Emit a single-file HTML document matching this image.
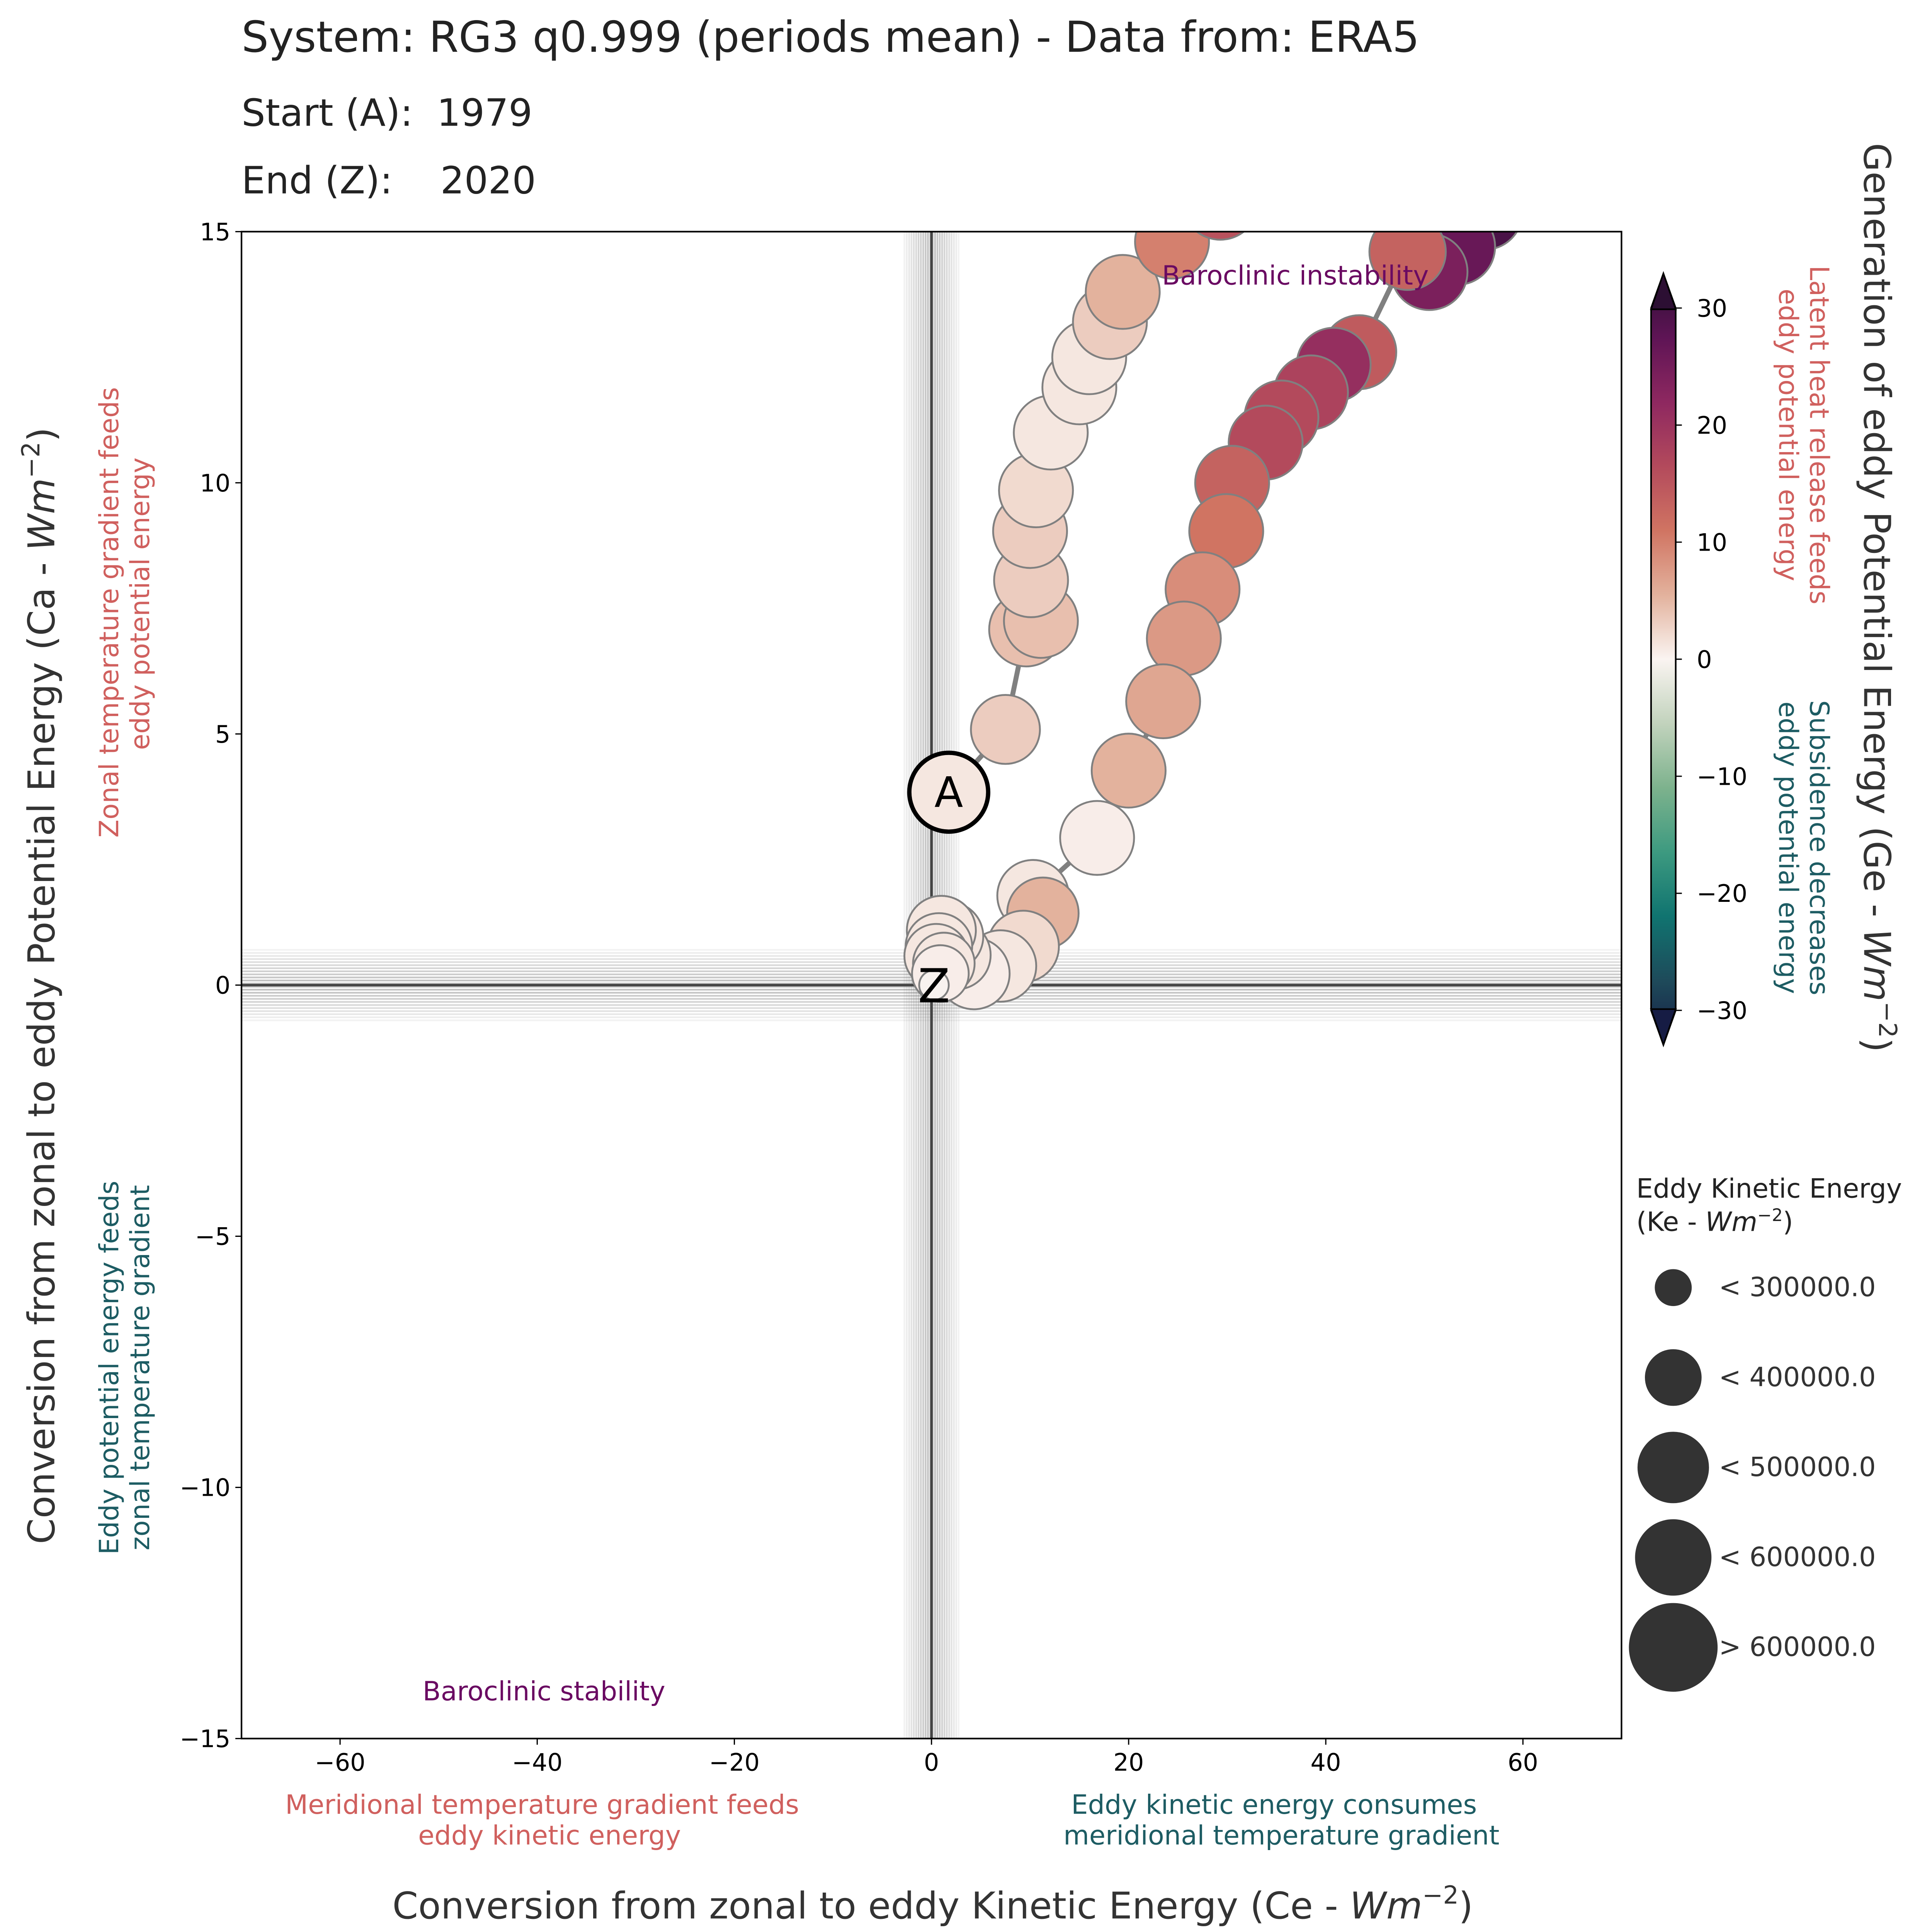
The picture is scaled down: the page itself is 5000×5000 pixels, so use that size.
<!DOCTYPE html>
<html><head><meta charset="utf-8"><style>
html,body{margin:0;padding:0;background:#fff;}
svg{display:block;font-family:"DejaVu Sans","Liberation Sans",sans-serif;}
</style></head><body>
<svg id="chart" width="5000" height="5000" viewBox="0 0 1568 1568" xmlns="http://www.w3.org/2000/svg">
<defs>
<linearGradient id="cbgrad" x1="0" y1="1" x2="0" y2="0">
<stop offset="0" stop-color="#161c44"/><stop offset="0.083" stop-color="#1e4a5a"/><stop offset="0.167" stop-color="#107470"/>
<stop offset="0.25" stop-color="#3d9a80"/><stop offset="0.333" stop-color="#7db28d"/><stop offset="0.417" stop-color="#c2d3bd"/>
<stop offset="0.5" stop-color="#faf4f1"/><stop offset="0.583" stop-color="#e3b29d"/><stop offset="0.667" stop-color="#d07462"/>
<stop offset="0.75" stop-color="#b34a5c"/><stop offset="0.833" stop-color="#8e2860"/><stop offset="0.917" stop-color="#5e1455"/>
<stop offset="1" stop-color="#2c0f33"/>
</linearGradient>
<clipPath id="plotclip"><rect x="196" y="188" width="1120" height="1223"/></clipPath>
</defs>
<g fill="#222">
<text x="196" y="42" font-size="34.7">System: RG3 q0.999 (periods mean) - Data from: ERA5</text>
<text x="196" y="102" font-size="30.5" xml:space="preserve">Start (A):  1979</text>
<text x="196" y="157" font-size="30.5" xml:space="preserve">End (Z):    2020</text>
</g>
<g id="bands" clip-path="url(#plotclip)"></g>
<g id="marks" clip-path="url(#plotclip)"></g>
<rect x="196" y="188" width="1120" height="1223" fill="none" stroke="#000" stroke-width="1.3"/>
<g id="xticks" font-size="19.5" fill="#000"></g>
<g id="yticks" font-size="19.5" fill="#000"></g>
<text x="943" y="231" font-size="21.5" fill="#6a0a62" clip-path="url(#plotclip)">Baroclinic instability</text>
<text x="343" y="1380" font-size="21.5" fill="#6a0a62">Baroclinic stability</text>
<g font-size="21.5" text-anchor="middle">
<text fill="#d0605e" x="440" y="1472">Meridional temperature gradient feeds</text>
<text fill="#d0605e" x="446" y="1497">eddy kinetic energy</text>
<text fill="#1d5c63" x="1034" y="1472">Eddy kinetic energy consumes</text>
<text fill="#1d5c63" x="1040" y="1497">meridional temperature gradient</text>
<text fill="#d0605e" transform="translate(96,497) rotate(-90)">Zonal temperature gradient feeds</text>
<text fill="#d0605e" transform="translate(121,490) rotate(-90)">eddy potential energy</text>
<text fill="#1d5c63" transform="translate(96,1110) rotate(-90)">Eddy potential energy feeds</text>
<text fill="#1d5c63" transform="translate(121,1110) rotate(-90)">zonal temperature gradient</text>
<text fill="#d0605e" transform="translate(1469,353) rotate(90)">Latent heat release feeds</text>
<text fill="#d0605e" transform="translate(1444,353) rotate(90)">eddy potential energy</text>
<text fill="#1d5c63" transform="translate(1469,688) rotate(90)">Subsidence decreases</text>
<text fill="#1d5c63" transform="translate(1444,688) rotate(90)">eddy potential energy</text>
</g>
<text x="757" y="1557" font-size="30" fill="#333" text-anchor="middle">Conversion from zonal to eddy Kinetic Energy (Ce - <tspan font-style="italic">Wm</tspan><tspan font-size="20" dy="-12">−2</tspan><tspan dy="12">)</tspan></text>
<text font-size="30" fill="#333" text-anchor="middle" transform="translate(44,800) rotate(-90)">Conversion from zonal to eddy Potential Energy (Ca - <tspan font-style="italic">Wm</tspan><tspan font-size="20" dy="-12">−2</tspan><tspan dy="12">)</tspan></text>
<text font-size="30" fill="#333" text-anchor="middle" transform="translate(1513,485) rotate(90)">Generation of eddy Potential Energy (Ge - <tspan font-style="italic">Wm</tspan><tspan font-size="20" dy="-12">−2</tspan><tspan dy="12">)</tspan></text>
<g>
<polygon points="1340,250 1350,222 1360,250 1360,820 1350,848 1340,820" fill="url(#cbgrad)" stroke="#000" stroke-width="1.3"/>
<polygon points="1340,251 1350,222 1360,251" fill="#2c0f33" stroke="#000" stroke-width="1.3"/>
<polygon points="1340,819 1350,848 1360,819" fill="#161c44" stroke="#000" stroke-width="1.3"/>
<g id="cbticks" font-size="19.5" fill="#000"></g>
</g>
<g fill="#222" font-size="21.5">
<text x="1328" y="972">Eddy Kinetic Energy</text>
<text x="1328" y="999">(Ke - <tspan font-style="italic">Wm</tspan><tspan font-size="14" dy="-8">−2</tspan><tspan dy="8">)</tspan></text>
<g id="sizeleg"></g>
</g>
</svg>
<script>
const NS='http://www.w3.org/2000/svg';
// Data
const ceValues=[1.75,7.5,9.6,11.1,10.1,10.0,10.6,12.1,15.0,16.0,18.1,19.4,24.4,29.3,38.0,56.7,56.1,53.3,50.5,48.3,43.4,40.8,38.5,35.5,33.9,30.5,29.9,27.5,25.6,23.5,20.0,16.8,10.3,11.3,9.3,7.0,4.3,2.5,1.75,1.0,0.75,0.5,1.25,0.9,0.25];
const caValues=[3.84,5.09,7.08,7.25,8.06,9.04,9.85,11.0,11.9,12.5,13.2,13.8,14.8,15.6,16.4,15.9,15.4,14.7,14.2,14.6,12.6,12.35,11.8,11.3,10.8,10.0,9.04,7.88,6.9,5.65,4.27,2.93,1.78,1.43,0.77,0.38,0.23,0.6,0.97,1.09,0.77,0.58,0.43,0.23,0.0];
const geValues=[1,3,4,4,3,3,2,1,1,1,3,5,9,14,20,27,27,24,22,12,13,19,16,15,15,12,10,8,7,6,5,0.5,1,5,2,1,0.5,1,1,1,1,1,1,0.5,0.5];
const keValues=[560000,560000,600000,600000,600000,600000,600000,600000,600000,600000,600000,600000,600000,620000,620000,620000,620000,620000,620000,620000,600000,600000,600000,600000,600000,600000,600000,600000,600000,600000,600000,600000,580000,580000,580000,580000,580000,560000,560000,560000,540000,520000,500000,460000,240000];
const xTicks=[-60,-40,-20,0,20,40,60];
const yTicks=[-15,-10,-5,0,5,10,15];
const cbTicks=[-30,-20,-10,0,10,20,30];
const legendKe=[300000,400000,500000,600000,700000];
const legendLabels=['< 300000.0','< 400000.0','< 500000.0','< 600000.0','> 600000.0'];
// Scales
const X0=196,X1=1316,Y0=188,Y1=1411;
const xs=v=>X0+(v+70)/140*(X1-X0);
const ys=v=>Y1-(v+15)/30*(Y1-Y0);
const cbY=v=>820-(v+30)/60*570;
const rs=k=>k/20000;
const stops=[[-30,[22,28,68]],[-25,[30,74,90]],[-20,[16,116,112]],[-15,[61,154,128]],[-10,[125,178,141]],[-5,[194,211,189]],[0,[250,244,241]],[5,[227,178,157]],[10,[208,116,98]],[15,[179,74,92]],[20,[142,40,96]],[25,[94,20,85]],[30,[44,15,51]]];
function cmap(v){v=Math.max(-30,Math.min(30,v));for(let i=0;i<stops.length-1;i++){const a=stops[i],b=stops[i+1];if(v<=b[0]){const t=(v-a[0])/(b[0]-a[0]);const c=a[1].map((x,j)=>Math.round(x+(b[1][j]-x)*t));return `rgb(${c[0]},${c[1]},${c[2]})`;}}return 'rgb(44,15,51)';}
function mk(tag,attrs,parent){const e=document.createElementNS(NS,tag);for(const k in attrs)e.setAttribute(k,attrs[k]);parent.appendChild(e);return e;}
// bands
const bands=document.getElementById('bands');
const NB=24;
for(let i=0;i<NB;i++){const f=(i-(NB-1)/2)/((NB-1)/2);const off=f*22;const op=0.08+0.32*(1-Math.abs(f));
const v=mk('line',{x1:xs(0)+off,x2:xs(0)+off,y1:Y0,y2:Y1,stroke:'#555','stroke-width':1.4,'stroke-opacity':op},bands);


const h=mk('line',{x1:X0,x2:X1,y1:ys(0)+off*1.3,y2:ys(0)+off*1.3,stroke:'#555','stroke-width':1.4,'stroke-opacity':op},bands);

}
const cv=mk('line',{x1:xs(0),x2:xs(0),y1:Y0,y2:Y1,stroke:'#444','stroke-width':2},bands);


const ch=mk('line',{x1:X0,x2:X1,y1:ys(0),y2:ys(0),stroke:'#444','stroke-width':2},bands);


// marks
const g=document.getElementById('marks');
const pts=ceValues.map((c,i)=>xs(c)+','+ys(caValues[i])).join(' ');
const path=mk('polyline',{points:pts,fill:'none',stroke:'#808080','stroke-width':4},g);


const order=[];for(let i=1;i<ceValues.length;i++)order.push(i);order.push(0);
order.forEach(i=>{
 const isA=i===0,isZ=i===ceValues.length-1;
 const c=mk('circle',{cx:xs(ceValues[i]),cy:ys(caValues[i]),r:isA?32:rs(keValues[i]),fill:isZ?'#f8f2ef':cmap(geValues[i]),stroke:isA?'#000':'#808080','stroke-width':isA?3.5:1.5},g);
 
 
});
const ta=mk('text',{x:xs(ceValues[0]),y:ys(caValues[0])+12,'font-size':34,'text-anchor':'middle',fill:'#000'},g);
ta.textContent='A';


const n=ceValues.length-1;
const tz=mk('text',{x:xs(ceValues[n]),y:ys(caValues[n])+14,'font-size':38,'text-anchor':'middle',fill:'#000'},g);
tz.textContent='Z';


// ticks
const xt=document.getElementById('xticks');
xTicks.forEach(v=>{const l=mk('line',{x1:xs(v),x2:xs(v),y1:Y1,y2:Y1+5,stroke:'#000'},xt);


const t=mk('text',{x:xs(v),y:Y1+26,'text-anchor':'middle'},xt);t.textContent=v<0?'−'+(-v):String(v);

});
const yt=document.getElementById('yticks');
yTicks.forEach(v=>{const l=mk('line',{x1:X0-5,x2:X0,y1:ys(v),y2:ys(v),stroke:'#000'},yt);


const t=mk('text',{x:X0-9,y:ys(v)+7,'text-anchor':'end'},yt);t.textContent=v<0?'−'+(-v):String(v);

});
const cbt=document.getElementById('cbticks');
cbTicks.forEach(v=>{const l=mk('line',{x1:1360,x2:1365,y1:cbY(v),y2:cbY(v),stroke:'#000'},cbt);


const t=mk('text',{x:1377,y:cbY(v)+7},cbt);t.textContent=v<0?'−'+(-v):String(v);

});
// size legend
const sl=document.getElementById('sizeleg');
const legR=[15,23,29,31,36];
legendKe.forEach((k,i)=>{const y=1045+i*73;
const c=mk('circle',{cx:1358,cy:y,r:legR[i],fill:'#333'},sl);


const t=mk('text',{x:1395,y:y+7,fill:'#333'},sl);t.textContent=legendLabels[i];

});
</script>
</body></html>
